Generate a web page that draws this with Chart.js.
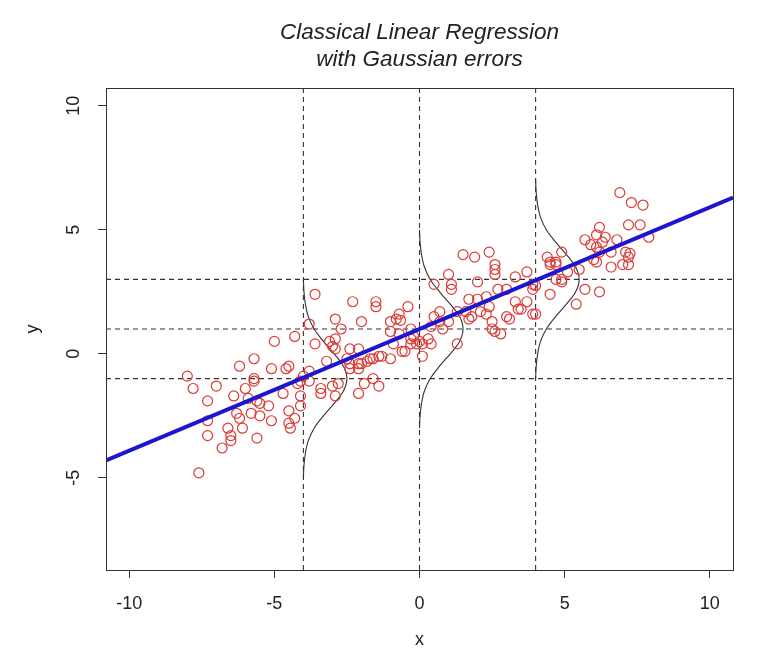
<!DOCTYPE html>
<html>
<head>
<meta charset="utf-8">
<script src="https://cdn.jsdelivr.net/npm/chart.js@4"></script>
<style>
    body { margin: 0; background: #fff; }
    #chart { display: block; }
</style>
</head>
<body>
<canvas id="chart" width="775" height="664"></canvas>
<script>
const titleLines = ['Classical Linear Regression', 'with Gaussian errors'];
const xLabel = 'x';
const yLabel = 'y';

const xRange = [-10.8, 10.8];
const yRange = [-8.72, 10.72];
const xTicks = [-10, -5, 0, 5, 10];
const yTicks = [-5, 0, 5, 10];

const ptX = [-8.0, -7.8, -7.0, -7.3, -7.3, -7.3, -7.6, -6.8, -6.6, -6.5, -6.5, -6.4, -6.3, -6.2, -6.2, -6.1, -6.0, -5.9, -5.8, -5.7,
    -5.7, -5.7, -5.6, -5.5, -5.6, -5.5, -5.2, -5.1, -5.1, -5.0, -4.7, -4.6, -4.5, -4.5, -4.5, -4.45, -4.3, -4.3, -4.2, -4.1,
    -4.1, -4.1, -4.0, -3.8, -3.8, -3.8, -3.6, -3.6, -3.4, -3.4, -3.2, -3.1, -3.0, -3.0, -2.9, -2.9, -2.9, -2.9, -2.8, -2.7,
    -2.5, -2.4, -2.4, -2.4, -2.3, -2.1, -2.1, -2.1, -2.1, -2.0, -2.0, -1.9, -1.8, -1.7, -1.6, -1.6, -1.5, -1.5, -1.4, -1.3,
    -1.4, -1.0, -1.0, -1.0, -0.9, -0.8, -0.7, -0.7, -0.65, -0.6, -0.5, -0.4, -0.3, -0.3, -0.2, -0.1, 0.0, -0.3, 0.1, 0.3,
    0.4, 0.1, 0.5, 0.5, 0.7, 0.7, 0.4, 0.8, 1.0, 1.0, 1.1, 1.1, 1.3, 1.3, 1.5, 1.6, 1.7, 1.7, 1.8, 1.9,
    2.0, 2.0, 2.1, 2.3, 2.3, 2.4, 2.4, 2.5, 2.5, 2.6, 2.6, 2.6, 2.6, 2.7, 2.8, 3.0, 3.0, 3.1, 3.3, 3.3,
    3.4, 3.5, 3.7, 3.7, 3.9, 3.9, 3.9, 4.0, 4.0, 4.4, 4.5, 4.7, 4.5, 4.7, 4.5, 4.7, 4.9, 4.9, 4.9, 5.1,
    5.4, 5.5, 5.7, 5.7, 5.9, 6.0, 6.1, 6.1, 6.1, 6.2, 6.2, 6.2, 6.3, 6.4, 6.6, 6.6, 6.8, 6.9, 7.0, 7.1,
    7.2, 7.2, 7.25, 7.2, 7.3, 7.6, 7.7, 7.9];
const ptY = [-0.9, -1.4, -1.3, -1.9, -2.7, -3.3, -4.8, -3.8, -3.0, -3.3, -3.5, -1.7, -2.4, -2.6, -0.5, -3.0, -1.4, -1.8, -2.4, -0.2,
    -1.0, -1.1, -1.9, -2.0, -3.4, -2.5, -2.1, -0.6, -2.7, 0.5, -1.6, -0.6, -0.5, -2.3, -2.8, -3.0, 0.7, -2.6, -1.2, -1.1,
    -1.7, -2.1, -0.9, -0.7, -1.1, 1.2, 2.4, 0.4, -1.4, -1.6, -0.3, 0.5, -1.3, 0.3, 1.4, -1.7, 0.6, 0.2, -1.2, 1.0,
    -0.2, -0.4, -0.6, 0.2, 2.1, -0.4, -1.6, 0.2, -0.6, 1.3, -0.4, -1.2, -0.3, -0.2, -1.0, -0.2, 2.1, 1.9, -0.1, -0.1,
    -1.3, -0.2, 1.3, 0.9, 0.4, 1.4, 1.6, 0.8, 1.35, 0.1, 0.1, 1.9, 1.0, 0.6, 0.7, 0.4, 0.5, 0.4, 0.4, 0.6,
    0.4, -0.1, 2.8, 1.5, 1.7, 1.3, 1.1, 1.0, 3.2, 1.3, 2.8, 2.6, 0.4, 1.7, 4.0, 1.7, 1.4, 2.2, 1.5, 3.9,
    2.9, 2.2, 1.7, 2.3, 1.6, 1.9, 4.1, 1.3, 1.0, 0.9, 3.6, 3.4, 3.2, 2.6, 0.8, 2.6, 1.5, 1.4, 3.1, 2.1,
    1.8, 1.8, 3.3, 2.1, 2.8, 2.6, 1.6, 1.6, 2.75, 3.9, 3.7, 3.7, 3.6, 3.6, 2.4, 3.0, 2.9, 3.0, 4.1, 3.3,
    2.0, 3.4, 2.6, 4.6, 4.4, 3.8, 3.7, 4.8, 4.3, 2.5, 5.1, 4.1, 4.5, 4.7, 4.1, 3.5, 4.6, 6.5, 3.6, 4.1,
    3.9, 5.2, 4.05, 3.6, 6.1, 5.2, 6.0, 4.7];

// fitted line end points
const fitX = [-10.8, 10.8];
const fitY = [-4.3, 6.3];

// dashed guides
const guideX = [-4, 0, 4];
const guideY = [-1, 1, 3];

// error curves: one bell per guide, offsets
const bellMean = [-1, 1, 3];
const bellDy = [-4, -3.5, -3, -2.5, -2, -1.5, -1, -0.5, 0, 0.5, 1, 1.5, 2, 2.5, 3, 3.5, 4];
const bellDx = [0, 0.02, 0.07, 0.17, 0.37, 0.69, 1.06, 1.38, 1.5, 1.38, 1.06, 0.69, 0.37, 0.17, 0.07, 0.02, 0];

const FONT = '"Liberation Sans", Arial, sans-serif';


function buildDatasets() {
    let sets = [];

    sets.push({
        data: fitX.map((x, i) => ({ x: x, y: fitY[i] })),
        showLine: true,
        borderColor: '#1c16d0',
        borderWidth: 4,
        pointRadius: 0
    });

    sets.push({
        data: ptX.map((x, i) => ({ x: x, y: ptY[i] })),
        showLine: false,
        pointRadius: 5,
        pointBorderWidth: 1.2,
        pointBorderColor: '#dc3a36',
        pointBackgroundColor: 'rgba(0,0,0,0)'
    });

    for (let k = 0; k < guideX.length; k++) {
        sets.push({
            data: bellDy.map((d, i) => ({ x: guideX[k] + bellDx[i], y: bellMean[k] + d })),
            showLine: true,
            tension: 0.35,
            borderColor: '#333',
            borderWidth: 1.1,
            pointRadius: 0
        });
    }

    guideX.forEach(g => {
        sets.push({
            data: [{ x: g, y: yRange[0] }, { x: g, y: yRange[1] }],
            showLine: true,
            borderColor: '#333',
            borderWidth: 1.1,
            borderDash: [5, 4],
            pointRadius: 0
        });
    });

    guideY.forEach(g => {
        sets.push({
            data: [{ x: xRange[0], y: g }, { x: xRange[1], y: g }],
            showLine: true,
            borderColor: '#333',
            borderWidth: 1.1,
            borderDash: [5, 4],
            pointRadius: 0
        });
    });

    return sets;
}


// frame, rotated y tick labels and the two-line title
const extras = {
    id: 'extras',
    afterDraw(chart) {
        const ctx = chart.ctx;
        const area = chart.chartArea;
        const yScale = chart.scales.y;
        ctx.save();

        ctx.strokeStyle = '#333';
        ctx.lineWidth = 1;
        ctx.strokeRect(area.left + 0.5, area.top + 0.5, area.right - area.left, area.bottom - area.top);

        ctx.fillStyle = '#222';
        ctx.font = '18px ' + FONT;
        ctx.textAlign = 'center';
        ctx.textBaseline = 'middle';
        yTicks.forEach(t => {
            ctx.save();
            ctx.translate(74, yScale.getPixelForValue(t));
            ctx.rotate(-Math.PI / 2);
            ctx.fillText(String(t), 0, 0);
            ctx.restore();
        });

        const cx = (area.left + area.right) / 2;
        ctx.font = 'italic 22.5px ' + FONT;
        ctx.fillText(titleLines[0], cx, 33);
        ctx.fillText(titleLines[1], cx, 60);
        ctx.restore();
    }
};


function init() {
    const ctx = document.getElementById('chart').getContext('2d');
    new Chart(ctx, {
        type: 'scatter',
        data: { datasets: buildDatasets() },
        options: {
            responsive: false,
            animation: false,
            layout: { padding: { top: 88, right: 42, left: 0, bottom: 0 } },
            plugins: {
                legend: { display: false },
                tooltip: { enabled: false }
            },
            scales: {
                x: {
                    type: 'linear',
                    min: xRange[0],
                    max: xRange[1],
                    afterBuildTicks: s => { s.ticks = xTicks.map(v => ({ value: v })); },
                    afterFit: s => { s.height = 94; },
                    grid: { drawOnChartArea: false, drawTicks: true, tickLength: 8, color: '#333' },
                    border: { display: false },
                    ticks: { color: '#222', font: { family: FONT, size: 18 }, padding: 15, maxRotation: 0 },
                    title: { display: true, text: xLabel, color: '#222', font: { family: FONT, size: 18 }, padding: 13 }
                },
                y: {
                    type: 'linear',
                    min: yRange[0],
                    max: yRange[1],
                    afterBuildTicks: s => { s.ticks = yTicks.map(v => ({ value: v })); },
                    afterFit: s => { s.width = 106; },
                    grid: { drawOnChartArea: false, drawTicks: true, tickLength: 8, color: '#333' },
                    border: { display: false },
                    ticks: { display: false },
                    title: { display: true, text: yLabel, color: '#222', font: { family: FONT, size: 18 }, padding: 22 }
                }
            }
        },
        plugins: [extras]
    });
}

init();
</script>
</body>
</html>
